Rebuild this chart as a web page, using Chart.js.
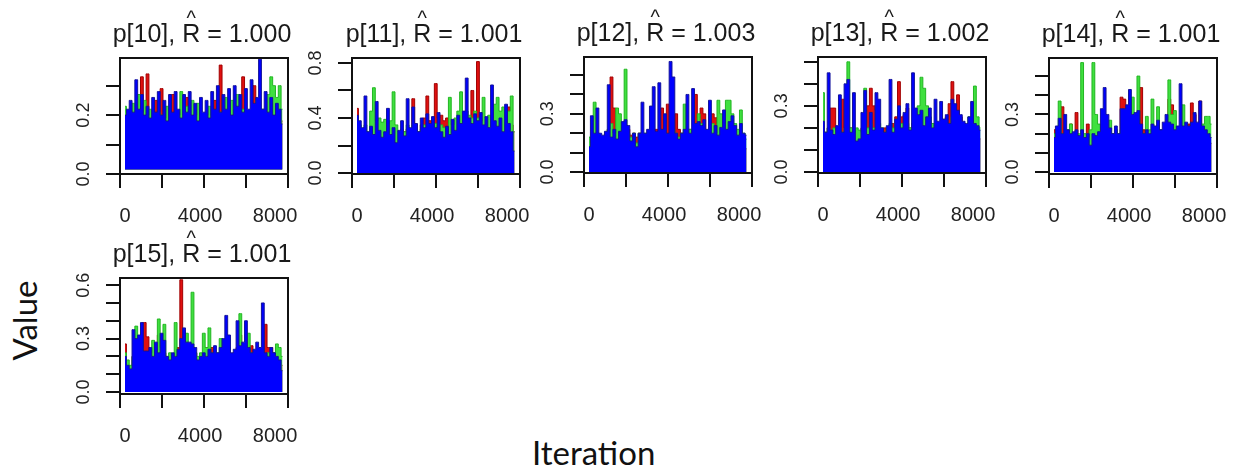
<!DOCTYPE html>
<html>
<head>
<meta charset="utf-8">
<script src="https://cdn.jsdelivr.net/npm/chart.js@4.4.0/dist/chart.umd.min.js"></script>
<style>
  body { margin: 0; background: #fff; width: 1246px; height: 472px; overflow: hidden; position: relative; }
  canvas { position: absolute; }
  .lab { position: absolute; font-family: Lato, "Open Sans", sans-serif; font-size: 33px; line-height: 33px; color: #111; white-space: nowrap; }
  #ylab { left: -26px; top: 304px; width: 100px; height: 33px; text-align: center; transform: rotate(-90deg); }
  #xlab { left: 532px; top: 436px; }
</style>
</head>
<body>
<div class="lab" id="xlab">Iteration</div>
<div class="lab" id="ylab">Value</div>
<script>
// iterations sampled along each chain
const iterations = [0,150,300,450,600,750,900,1050,1200,1350,1500,1650,1800,1950,2100,2250,2400,2550,2700,2850,
  3000,3150,3300,3450,3600,3750,3900,4050,4200,4350,4500,4650,4800,4950,5100,5250,5400,5550,5700,5850,
  6000,6150,6300,6450,6600,6750,6900,7050,7200,7350,7500,7650,7800,7950,8100,8250,8400];
const xTickLabels = [0, 4000, 8000];

const p10Blue = [0.20,0.22,0.25,0.21,0.32,0.22,0.27,0.20,0.23,0.19,0.26,0.21,0.28,0.20,0.25,0.18,0.27,0.21,0.28,0.22,
  0.19,0.27,0.21,0.28,0.20,0.24,0.18,0.26,0.21,0.25,0.19,0.28,0.22,0.30,0.21,0.27,0.22,0.29,0.20,0.30,
  0.23,0.27,0.21,0.29,0.22,0.32,0.24,0.26,0.39,0.22,0.28,0.21,0.26,0.20,0.24,0.22,0.17];
const p10Red = [0.18,0.17,0.20,0.19,0.22,0.20,0.33,0.20,0.34,0.20,0.22,0.25,0.20,0.29,0.20,0.22,0.19,0.27,0.20,0.21,
  0.18,0.20,0.26,0.19,0.20,0.21,0.19,0.20,0.18,0.21,0.20,0.19,0.25,0.20,0.37,0.20,0.21,0.19,0.20,0.22,
  0.19,0.20,0.33,0.20,0.21,0.19,0.30,0.20,0.19,0.21,0.20,0.25,0.19,0.20,0.21,0.19,0.18];
const p10Green = [0.23,0.21,0.20,0.24,0.20,0.27,0.21,0.25,0.20,0.22,0.19,0.20,0.21,0.20,0.19,0.23,0.20,0.19,0.21,0.20,
  0.28,0.20,0.23,0.20,0.25,0.20,0.24,0.20,0.19,0.20,0.23,0.20,0.19,0.20,0.21,0.20,0.26,0.20,0.25,0.20,
  0.27,0.20,0.22,0.20,0.21,0.19,0.20,0.25,0.20,0.22,0.20,0.27,0.33,0.30,0.26,0.30,0.22];

const p11Blue = [0.42,0.38,0.33,0.56,0.30,0.34,0.28,0.52,0.31,0.26,0.30,0.47,0.28,0.33,0.22,0.31,0.38,0.27,0.54,0.33,
  0.48,0.36,0.30,0.40,0.33,0.43,0.36,0.41,0.33,0.44,0.30,0.26,0.34,0.28,0.39,0.31,0.42,0.36,0.45,0.69,
  0.40,0.36,0.43,0.38,0.44,0.35,0.41,0.33,0.64,0.38,0.34,0.40,0.30,0.50,0.36,0.30,0.16];
const p11Red = [0.47,0.30,0.30,0.28,0.25,0.30,0.27,0.30,0.28,0.25,0.29,0.30,0.27,0.30,0.26,0.30,0.28,0.30,0.32,0.30,
  0.54,0.35,0.30,0.35,0.40,0.56,0.38,0.35,0.65,0.40,0.42,0.38,0.40,0.36,0.33,0.30,0.35,0.40,0.35,0.40,
  0.38,0.60,0.40,0.81,0.40,0.38,0.36,0.40,0.35,0.38,0.34,0.36,0.38,0.40,0.48,0.35,0.30];
const p11Green = [0.40,0.35,0.30,0.35,0.30,0.45,0.62,0.38,0.40,0.37,0.39,0.36,0.38,0.59,0.35,0.30,0.32,0.30,0.35,0.30,
  0.35,0.33,0.30,0.32,0.35,0.30,0.35,0.33,0.36,0.30,0.35,0.33,0.30,0.55,0.35,0.40,0.45,0.59,0.40,0.45,
  0.42,0.40,0.45,0.40,0.38,0.55,0.40,0.42,0.40,0.50,0.55,0.45,0.48,0.40,0.45,0.56,0.30];

const p12Blue = [0.13,0.29,0.20,0.33,0.20,0.19,0.21,0.45,0.18,0.22,0.17,0.21,0.26,0.27,0.24,0.16,0.20,0.13,0.20,0.36,
  0.20,0.22,0.34,0.44,0.21,0.46,0.22,0.30,0.20,0.57,0.49,0.20,0.17,0.20,0.22,0.40,0.20,0.43,0.25,0.26,
  0.24,0.27,0.22,0.37,0.20,0.24,0.19,0.23,0.32,0.22,0.26,0.29,0.24,0.19,0.25,0.20,0.19];
const p12Red = [0.12,0.15,0.18,0.20,0.18,0.17,0.20,0.22,0.49,0.33,0.30,0.20,0.18,0.20,0.22,0.19,0.20,0.18,0.20,0.15,
  0.18,0.20,0.19,0.20,0.22,0.20,0.33,0.25,0.35,0.20,0.20,0.30,0.22,0.20,0.18,0.20,0.22,0.20,0.40,0.28,
  0.33,0.30,0.20,0.19,0.30,0.28,0.25,0.20,0.22,0.26,0.22,0.20,0.22,0.20,0.18,0.15,0.12];
const p12Green = [0.18,0.15,0.36,0.20,0.18,0.15,0.20,0.22,0.25,0.20,0.33,0.30,0.20,0.53,0.20,0.18,0.20,0.15,0.20,0.18,
  0.20,0.18,0.20,0.18,0.20,0.19,0.20,0.20,0.18,0.20,0.22,0.20,0.18,0.20,0.35,0.20,0.22,0.20,0.25,0.30,
  0.25,0.22,0.20,0.22,0.25,0.20,0.37,0.30,0.25,0.37,0.37,0.30,0.25,0.22,0.32,0.20,0.17];

const p13Blue = [0.23,0.18,0.45,0.19,0.17,0.21,0.35,0.18,0.40,0.42,0.18,0.36,0.14,0.15,0.27,0.37,0.17,0.27,0.19,0.36,
  0.33,0.20,0.18,0.21,0.42,0.18,0.24,0.30,0.20,0.27,0.31,0.19,0.45,0.29,0.26,0.28,0.21,0.25,0.29,0.20,
  0.33,0.23,0.32,0.24,0.26,0.22,0.33,0.31,0.28,0.26,0.23,0.22,0.25,0.32,0.22,0.21,0.19];
const p13Red = [0.20,0.18,0.20,0.29,0.29,0.20,0.18,0.33,0.20,0.18,0.20,0.18,0.15,0.16,0.20,0.22,0.30,0.38,0.30,0.28,
  0.20,0.18,0.20,0.19,0.20,0.22,0.25,0.41,0.25,0.26,0.29,0.20,0.22,0.25,0.20,0.22,0.20,0.22,0.20,0.22,
  0.20,0.22,0.20,0.22,0.25,0.31,0.41,0.30,0.35,0.25,0.22,0.20,0.22,0.20,0.18,0.20,0.15];
const p13Green = [0.36,0.18,0.20,0.18,0.20,0.19,0.20,0.18,0.20,0.50,0.20,0.18,0.20,0.19,0.18,0.38,0.20,0.22,0.20,0.20,
  0.22,0.20,0.18,0.20,0.22,0.20,0.22,0.20,0.22,0.20,0.22,0.20,0.22,0.25,0.30,0.43,0.38,0.30,0.25,0.22,
  0.20,0.22,0.20,0.22,0.20,0.22,0.25,0.20,0.22,0.20,0.22,0.20,0.25,0.20,0.39,0.25,0.20];

const p14Blue = [0.18,0.24,0.28,0.20,0.30,0.22,0.20,0.21,0.22,0.19,0.22,0.18,0.20,0.14,0.20,0.19,0.21,0.33,0.44,0.30,
  0.23,0.20,0.24,0.20,0.33,0.33,0.35,0.43,0.30,0.31,0.32,0.25,0.20,0.22,0.20,0.25,0.24,0.27,0.22,0.26,
  0.30,0.26,0.25,0.22,0.24,0.46,0.24,0.26,0.24,0.26,0.31,0.26,0.37,0.24,0.22,0.20,0.18];
const p14Red = [0.22,0.20,0.18,0.34,0.20,0.18,0.25,0.20,0.31,0.18,0.20,0.18,0.25,0.20,0.18,0.20,0.18,0.20,0.22,0.20,
  0.18,0.20,0.22,0.20,0.39,0.38,0.25,0.22,0.24,0.22,0.20,0.44,0.22,0.20,0.18,0.20,0.22,0.20,0.22,0.20,
  0.22,0.38,0.35,0.22,0.20,0.22,0.20,0.22,0.25,0.36,0.30,0.22,0.37,0.22,0.20,0.18,0.15];
const p14Green = [0.20,0.22,0.37,0.20,0.18,0.22,0.25,0.20,0.18,0.20,0.57,0.20,0.18,0.22,0.57,0.30,0.25,0.20,0.22,0.20,
  0.27,0.20,0.22,0.20,0.22,0.20,0.22,0.20,0.39,0.25,0.50,0.22,0.20,0.29,0.22,0.38,0.20,0.34,0.22,0.20,
  0.25,0.48,0.30,0.32,0.22,0.20,0.35,0.25,0.22,0.20,0.22,0.20,0.22,0.25,0.29,0.29,0.25];

const p15Blue = [0.20,0.15,0.13,0.35,0.30,0.32,0.39,0.23,0.23,0.25,0.20,0.28,0.22,0.33,0.29,0.20,0.18,0.22,0.20,0.24,
  0.30,0.36,0.28,0.28,0.27,0.25,0.18,0.20,0.22,0.20,0.24,0.22,0.26,0.22,0.25,0.30,0.43,0.32,0.22,0.24,
  0.40,0.26,0.28,0.40,0.25,0.22,0.24,0.28,0.25,0.50,0.22,0.20,0.25,0.22,0.20,0.18,0.12];
const p15Red = [0.27,0.15,0.12,0.20,0.22,0.20,0.25,0.39,0.31,0.22,0.20,0.22,0.32,0.20,0.22,0.18,0.17,0.20,0.22,0.25,
  0.63,0.30,0.25,0.22,0.20,0.22,0.18,0.20,0.22,0.25,0.22,0.25,0.22,0.20,0.22,0.20,0.22,0.25,0.20,0.22,
  0.25,0.32,0.25,0.22,0.20,0.26,0.22,0.20,0.22,0.20,0.38,0.25,0.25,0.22,0.25,0.20,0.15];
const p15Green = [0.22,0.18,0.15,0.20,0.37,0.22,0.20,0.22,0.20,0.22,0.29,0.22,0.41,0.25,0.38,0.20,0.22,0.20,0.39,0.20,
  0.22,0.20,0.33,0.25,0.56,0.22,0.20,0.22,0.33,0.25,0.36,0.22,0.20,0.22,0.30,0.22,0.20,0.22,0.20,0.22,
  0.20,0.44,0.25,0.22,0.33,0.22,0.20,0.22,0.20,0.22,0.20,0.22,0.20,0.22,0.27,0.25,0.20];

const panelNames = ['p[10]', 'p[11]', 'p[12]', 'p[13]', 'p[14]', 'p[15]'];
const rhatValues = ['1.000', '1.001', '1.003', '1.002', '1.001', '1.001'];
const yTickLabels = [[0, 0.2], [0, 0.4, 0.8], [0, 0.3], [0, 0.3], [0, 0.3], [0, 0.3, 0.6]];

// layout of the six panels (box position in page px, y range of each box)
const BOX_W = 168, BOX_H = 116, LEFT_SPACE = 75, TOP_SPACE = 58, RIGHT_SPACE = 20, BOTTOM_SPACE = 62;
const panels = [
  { blue: p10Blue, green: p10Green, red: p10Red, left: 120, top: 58, yMin: 0, yMax: 0.394, step: 0.1, floor: 0.015 },
  { blue: p11Blue, green: p11Green, red: p11Red, left: 352, top: 58, yMin: -0.007, yMax: 0.836, step: 0.2 },
  { blue: p12Blue, green: p12Green, red: p12Red, left: 584, top: 57, yMin: -0.005, yMax: 0.593, step: 0.1 },
  { blue: p13Blue, green: p13Green, red: p13Red, left: 818, top: 57, yMin: -0.005, yMax: 0.522, step: 0.1 },
  { blue: p14Blue, green: p14Green, red: p14Red, left: 1049, top: 58, yMin: -0.01, yMax: 0.594, step: 0.1 },
  { blue: p15Blue, green: p15Green, red: p15Red, left: 120, top: 278, yMin: -0.011, yMax: 0.64, step: 0.1 }
];

function chain(values, fillColor, lineColor, floor) {
  return {
    data: values,
    borderColor: lineColor,
    backgroundColor: fillColor,
    borderWidth: 1,
    pointRadius: 0,
    stepped: 'middle',
    fill: floor ? { value: floor } : 'origin'
  };
}

function panelDecor(name, rhat, labels) {
  return {
    id: 'panelDecor',
    afterDraw(chart) {
      const { ctx, chartArea: a } = chart;
      const x = chart.scales.x, y = chart.scales.y;
      ctx.save();
      ctx.strokeStyle = '#111';
      ctx.lineWidth = 2;
      ctx.strokeRect(a.left, a.top, a.right - a.left, a.bottom - a.top);

      ctx.fillStyle = '#222';
      ctx.textBaseline = 'alphabetic';
      ctx.textAlign = 'center';
      ctx.font = '20px "Liberation Sans", Arial, sans-serif';
      xTickLabels.forEach(v => {
        ctx.fillText(String(v), x.getPixelForValue(v), a.bottom + 48);
      });

      ctx.font = '18px "Liberation Sans", Arial, sans-serif';
      labels.forEach(v => {
        ctx.save();
        ctx.translate(a.left - 31, y.getPixelForValue(v));
        ctx.rotate(-Math.PI / 2);
        ctx.fillText(v.toFixed(1), 0, 0);
        ctx.restore();
      });

      // title: name, R-hat = value
      ctx.fillStyle = '#1a1a1a';
      ctx.font = '25px "Liberation Sans", Arial, sans-serif';
      ctx.textAlign = 'left';
      const pre = name + ', ', post = ' = ' + rhat;
      const w1 = ctx.measureText(pre).width;
      const wR = ctx.measureText('R').width;
      const w2 = ctx.measureText(post).width;
      const x0 = (a.left + a.right) / 2 - 2 - (w1 + wR + w2) / 2;
      const base = a.top - 16;
      ctx.fillText(pre, x0, base);
      ctx.fillText('R', x0 + w1, base);
      ctx.fillText(post, x0 + w1 + wR, base);
      ctx.font = '20px "Liberation Sans", Arial, sans-serif';
      ctx.textAlign = 'center';
      ctx.fillText('^', x0 + w1 + wR / 2, base - 17.5);
      ctx.restore();
    }
  };
}

panels.forEach((p, i) => {
  const cv = document.createElement('canvas');
  cv.width = LEFT_SPACE + BOX_W + RIGHT_SPACE;
  cv.height = TOP_SPACE + BOX_H + BOTTOM_SPACE;
  cv.style.left = (p.left - LEFT_SPACE) + 'px';
  cv.style.top = (p.top - TOP_SPACE) + 'px';
  document.body.appendChild(cv);

  const tickGrid = { drawOnChartArea: false, drawTicks: true, tickLength: 14, color: '#111', lineWidth: 2 };

  new Chart(cv, {
    type: 'line',
    data: {
      labels: iterations,
      datasets: [
        chain(p.blue, '#0000ff', '#12129a', p.floor),
        chain(p.green, '#3fe03f', '#22b522', p.floor),
        chain(p.red, '#e01010', '#a00000', p.floor)
      ]
    },
    options: {
      responsive: false,
      animation: false,
      devicePixelRatio: 1,
      layout: { padding: { top: TOP_SPACE, left: 0, right: RIGHT_SPACE, bottom: 0 } },
      plugins: { legend: { display: false }, tooltip: { enabled: false } },
      scales: {
        x: {
          type: 'linear',
          min: -267,
          max: 8693,
          afterFit(s) { s.height = BOTTOM_SPACE; s.paddingLeft = 0; s.paddingRight = 0; },
          grid: tickGrid,
          border: { display: false },
          ticks: { stepSize: 2000, includeBounds: false, autoSkip: false, maxRotation: 0, minRotation: 0, display: false }
        },
        y: {
          min: p.yMin,
          max: p.yMax,
          afterFit(s) { s.width = LEFT_SPACE; s.paddingTop = 0; s.paddingBottom = 0; },
          grid: tickGrid,
          border: { display: false },
          ticks: { stepSize: p.step, includeBounds: false, display: false }
        }
      }
    },
    plugins: [panelDecor(panelNames[i], rhatValues[i], yTickLabels[i])]
  });
});
</script>
</body>
</html>
